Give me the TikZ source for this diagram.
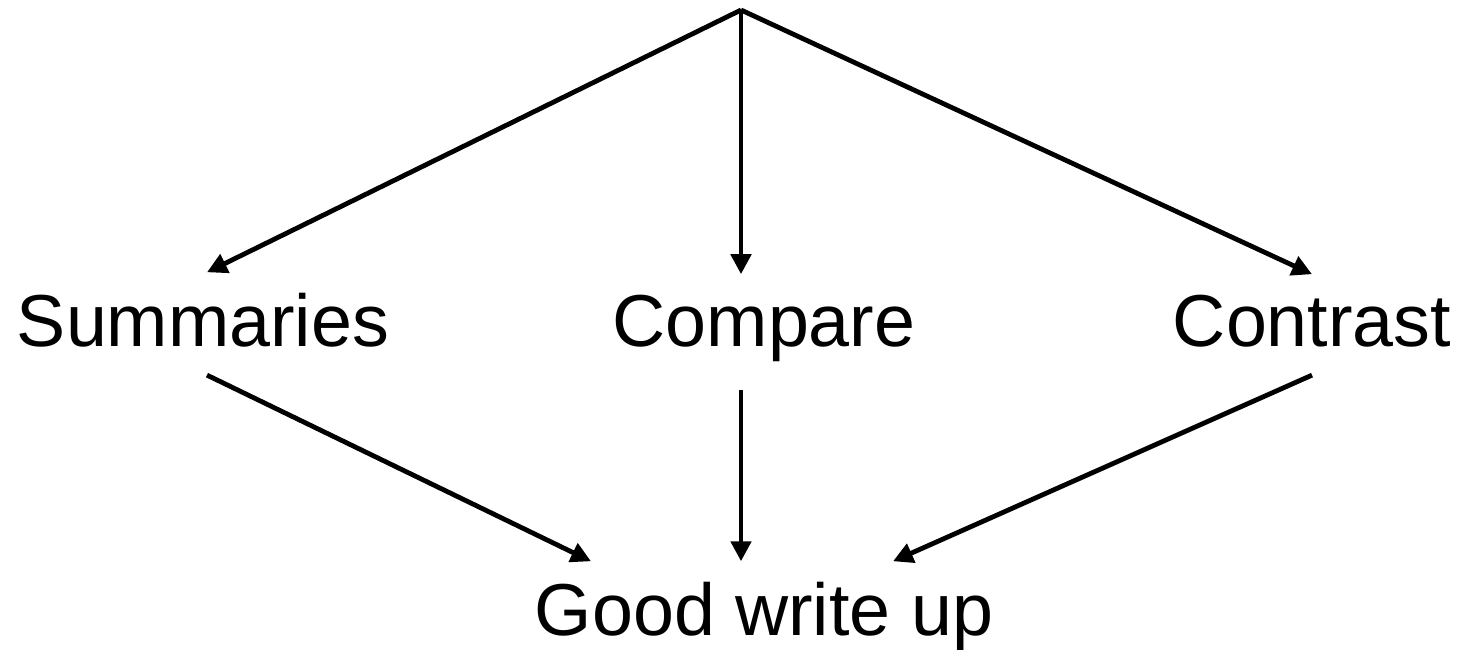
\documentclass[tikz,border=0pt]{standalone}
\usepackage{fontspec}
\setmainfont{Liberation Sans}
\usetikzlibrary{arrows.meta, positioning}

\begin{document}
\begin{tikzpicture}[x=0.5pt, y=-0.5pt,
        lbl/.style={font=\fontsize{36.8}{40}\selectfont, inner sep=0pt, anchor=base},
        link/.style={line width=2.4pt, -{Triangle[length=10pt, width=10pt]}}]
        \useasboundingbox (0,0) rectangle (1461,649);

        \coordinate (top) at (741,10);
        \node[lbl] (sum) at (203,346) {Summaries};
        \node[lbl] (cmp) at (764,346) {Compare};
        \node[lbl] (con) at (1312,346) {Contrast};
        \node[lbl] (good) at (764,635) {Good write up};

        \draw [link] (top) -- ([xshift=2pt,yshift=10pt]sum.north);
        \draw [link] (top) -- ([xshift=-11.5pt,yshift=10pt]cmp.north);
        \draw [link] (top) -- ([yshift=10pt]con.north);

        \draw [link] ([xshift=2pt,yshift=-14pt]sum.south) -- ([xshift=-86.5pt,yshift=10pt]good.north);
        \draw [link] ([xshift=-11.5pt,yshift=-14pt]cmp.south) -- ([xshift=-11.5pt,yshift=10pt]good.north);
        \draw [link] ([yshift=-14pt]con.south) -- ([xshift=64.5pt,yshift=10pt]good.north);
    \end{tikzpicture}
\end{document}
